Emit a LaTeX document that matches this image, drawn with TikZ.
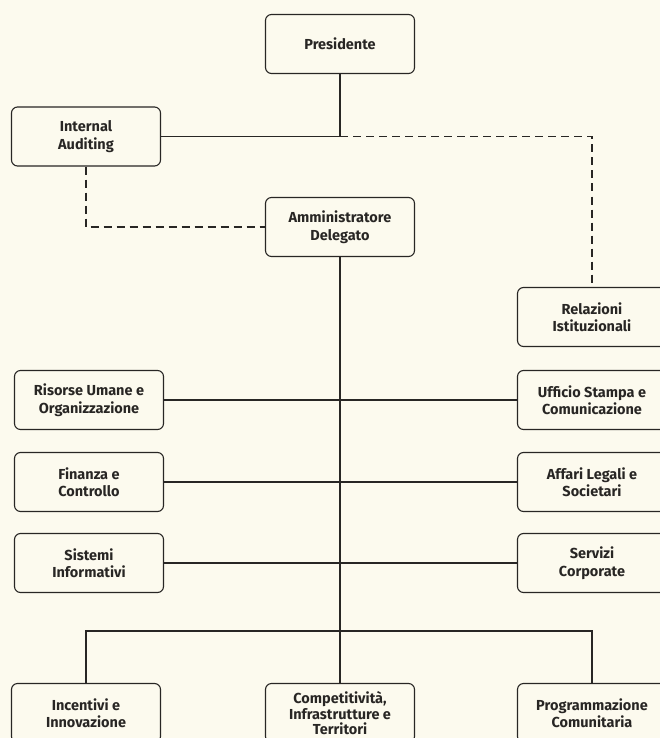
\documentclass[tikz,border=0pt]{standalone}
\usepackage{fontspec}
\setmainfont{Fira Sans}
\definecolor{bg}{RGB}{252,250,238}
\definecolor{ink}{RGB}{40,38,36}
\begin{document}
\begin{tikzpicture}[x=1pt,y=-1pt,
  box/.style={draw=ink, line width=1.1pt, fill=bg, rounded corners=6pt,
    minimum width=149pt, minimum height=59pt, align=center,
    font=\fontsize{14.5}{17.5}\selectfont\bfseries, text=ink, inner sep=2pt},
  conn/.style={draw=ink, line width=1.5pt},
  dconn/.style={draw=ink, line width=1.5pt, dash pattern=on 8pt off 5pt}]
\fill[bg] (0,0) rectangle (660,738);
\useasboundingbox (0,0) rectangle (660,738);
\clip (0,0) rectangle (660,738);
\node[box] (pres) at (340,44) {Presidente};
\node[box] (ia) at (86,136.5) {Internal\\Auditing};
\node[box] (ad) at (340,227) {Amministratore\\Delegato};
\node[box] (rel) at (592,317) {Relazioni\\Istituzionali};
\node[box] (ris) at (89,400) {Risorse Umane e\\Organizzazione};
\node[box] (uff) at (592,400) {Ufficio Stampa e\\Comunicazione};
\node[box] (fin) at (89,482) {Finanza e\\Controllo};
\node[box] (aff) at (592,482) {Affari Legali e\\Societari};
\node[box] (sis) at (89,563) {Sistemi\\Informativi};
\node[box] (ser) at (592,563) {Servizi\\Corporate};
\node[box] (inc) at (86,713) {Incentivi e\\Innovazione};
\node[box, font=\fontsize{14.5}{15.5}\selectfont\bfseries, text depth=0pt] (com) at (340,713)
  {\raisebox{0pt}{}Competitività,\\Infrastrutture e\\Territori};
\node[box] (pro) at (592,713) {Programmazione\\Comunitaria};
\coordinate (j1) at (pres |- ia.east);
\coordinate (bus) at (340,631);
% top links
\draw[conn] (pres.south) -- (j1) -- (ia.east);
\draw[dconn] (j1) -- (rel |- j1) -- (rel.north);
\draw[dconn] (ia.south) -- (ia |- ad.west) -- (ad.west);
% trunk
\draw[conn] (ad.south) -- (com.north);
\draw[conn] (ris.east) -- (uff.west);
\draw[conn] (fin.east) -- (aff.west);
\draw[conn] (sis.east) -- (ser.west);
\draw[conn] (inc.north) -- (inc |- bus) -- (pro |- bus) -- (pro.north);
\end{tikzpicture}
\end{document}
